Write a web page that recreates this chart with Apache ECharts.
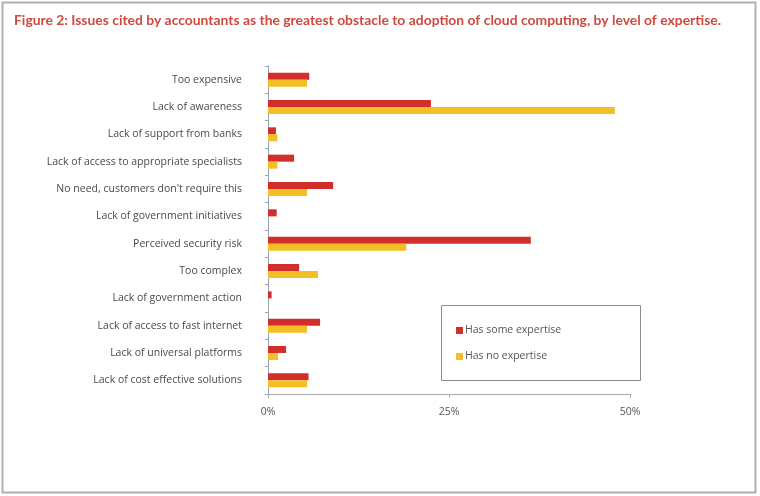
<!DOCTYPE html>
<html>
<head>
<meta charset="utf-8">
<script src="https://cdn.jsdelivr.net/npm/echarts@6/dist/echarts.min.js"></script>
<style>
html,body{margin:0;padding:0;background:#fff;}
#c{width:760px;height:496px;}
</style>
</head>
<body>
<div id="c"></div>
<script>
var categories = [
  "Too expensive",
  "Lack of awareness",
  "Lack of support from banks",
  "Lack of access to appropriate specialists",
  "No need, customers don't require this",
  "Lack of government initiatives",
  "Perceived security risk",
  "Too complex",
  "Lack of government action",
  "Lack of access to fast internet",
  "Lack of universal platforms",
  "Lack of cost effective solutions"
];
var someExpertise = [5.7, 22.5, 1.1, 3.6, 9.0, 1.2, 36.3, 4.3, 0.5, 7.2, 2.5, 5.6];
var noExpertise   = [5.4, 47.9, 1.3, 1.3, 5.4, 0,   19.1, 6.9, 0,   5.4, 1.4, 5.4];
var seriesNames = ["Has some expertise", "Has no expertise"];
var titleText = "Figure 2: Issues cited by accountants as the greatest obstacle to adoption of cloud computing, by level of expertise.";

var chart = echarts.init(document.getElementById('c'), null, {renderer: 'canvas'});
var labelFont = "Open Sans";
chart.setOption({
  animation: false,
  backgroundColor: '#fff',
  title: {
    text: titleText,
    left: 9, top: 9,
    textStyle: {color: '#cc4a3e', fontSize: 13.9, fontWeight: 'bold', fontFamily: 'Lato'}
  },
  graphic: [
    {type: 'rect', shape: {x: 2.5, y: 2.5, width: 753, height: 490}, style: {fill: 'none', stroke: '#b0b0b0', lineWidth: 2}, silent: true},
    {type: 'rect', shape: {x: 441.5, y: 305.5, width: 199, height: 75}, style: {fill: '#fff', stroke: '#8c8c8c', lineWidth: 1}, z: 1}
  ],
  legend: {
    orient: 'vertical',
    left: 451, top: 320,
    itemWidth: 7, itemHeight: 7, itemGap: 15,
    icon: 'rect',
    z: 5,
    textStyle: {color: '#555', fontSize: 10.5, fontFamily: labelFont, padding: [0,0,0,-3]},
    data: seriesNames
  },
  grid: {left: 268, right: 130, top: 66, bottom: 102, containLabel: false},
  xAxis: {
    type: 'value', min: 0, max: 50, interval: 25,
    axisLine: {show: true, lineStyle: {color: '#a8a8a8'}},
    axisTick: {show: true, length: 4, lineStyle: {color: '#a8a8a8'}},
    splitLine: {show: false},
    axisLabel: {formatter: '{value}%', color: '#555', fontSize: 10.5, fontFamily: labelFont, margin: 13}
  },
  yAxis: {
    type: 'category', data: categories, inverse: true,
    axisLine: {show: true, lineStyle: {color: '#9aa4b0'}},
    axisTick: {show: true, length: 3, lineStyle: {color: '#9aa4b0'}},
    axisLabel: {color: '#4a4a4a', fontSize: 10.5, fontFamily: labelFont, margin: 26}
  },
  series: [
    {name: seriesNames[0], type: 'bar', data: someExpertise, barWidth: 7, barGap: '0%', itemStyle: {color: '#d22f2c'}},
    {name: seriesNames[1], type: 'bar', data: noExpertise, barWidth: 7, barGap: '0%', itemStyle: {color: '#f4bf26'}}
  ]
});
</script>
</body>
</html>
